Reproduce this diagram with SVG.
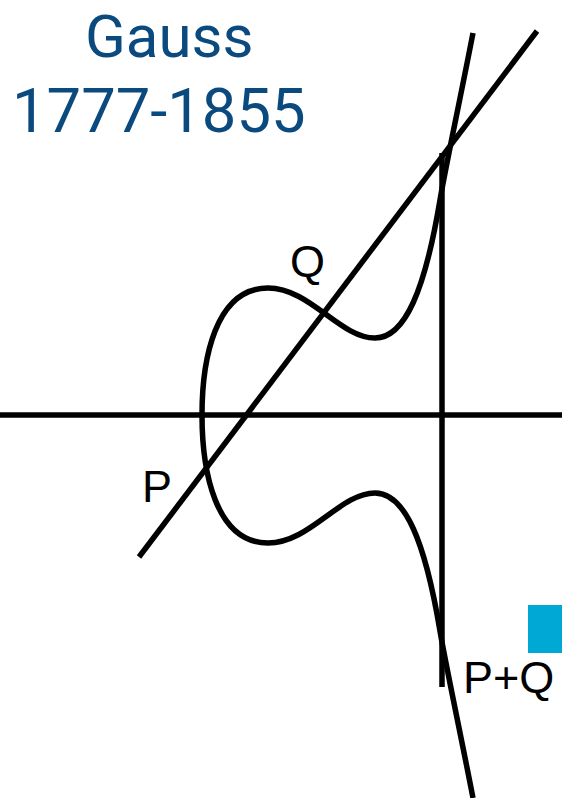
<svg xmlns="http://www.w3.org/2000/svg" width="562" height="798" viewBox="0 0 562 798">
<style>
.ln{stroke:#000;stroke-width:5.5;fill:none}
.lbl{font-family:"Liberation Sans",Arial,sans-serif;font-size:45px;fill:#000}
.ttl{font-family:Roboto,"Liberation Sans",sans-serif;font-size:60px;fill:#0B4A7E}
</style>
<rect width="562" height="798" fill="#fff"/>
<g id="title">
<text class="ttl" x="85" y="57">Gauss</text>
<text class="ttl" x="12" y="132" style="font-size:61.5px">1777-1855</text>
</g>
<g id="connectors">
<line class="ln" x1="0" y1="415" x2="562" y2="415"/>
<line class="ln" x1="139" y1="557" x2="537" y2="31"/>
<line class="ln" x1="442" y1="153" x2="442" y2="687"/>
</g>
<g id="curve">
<path class="ln" d="M473,33 C460,100 445,170 440,200 C425,290 405,338 375,338 C340,338 310,288 268,288 C215,288 202,360 202,415 C202,470 215,543 268,543 C310,543 340,493 375,493 C405,493 425,541 440,631 C445,661 460,731 473,798"/>
</g>
<g id="labels">
<text class="lbl" x="290" y="277">Q</text>
<text class="lbl" x="142" y="502">P</text>
<text class="lbl" x="463" y="693">P+Q</text>
</g>
<rect id="marker" x="528" y="605" width="34" height="48" fill="#00A8D6"/>
</svg>
